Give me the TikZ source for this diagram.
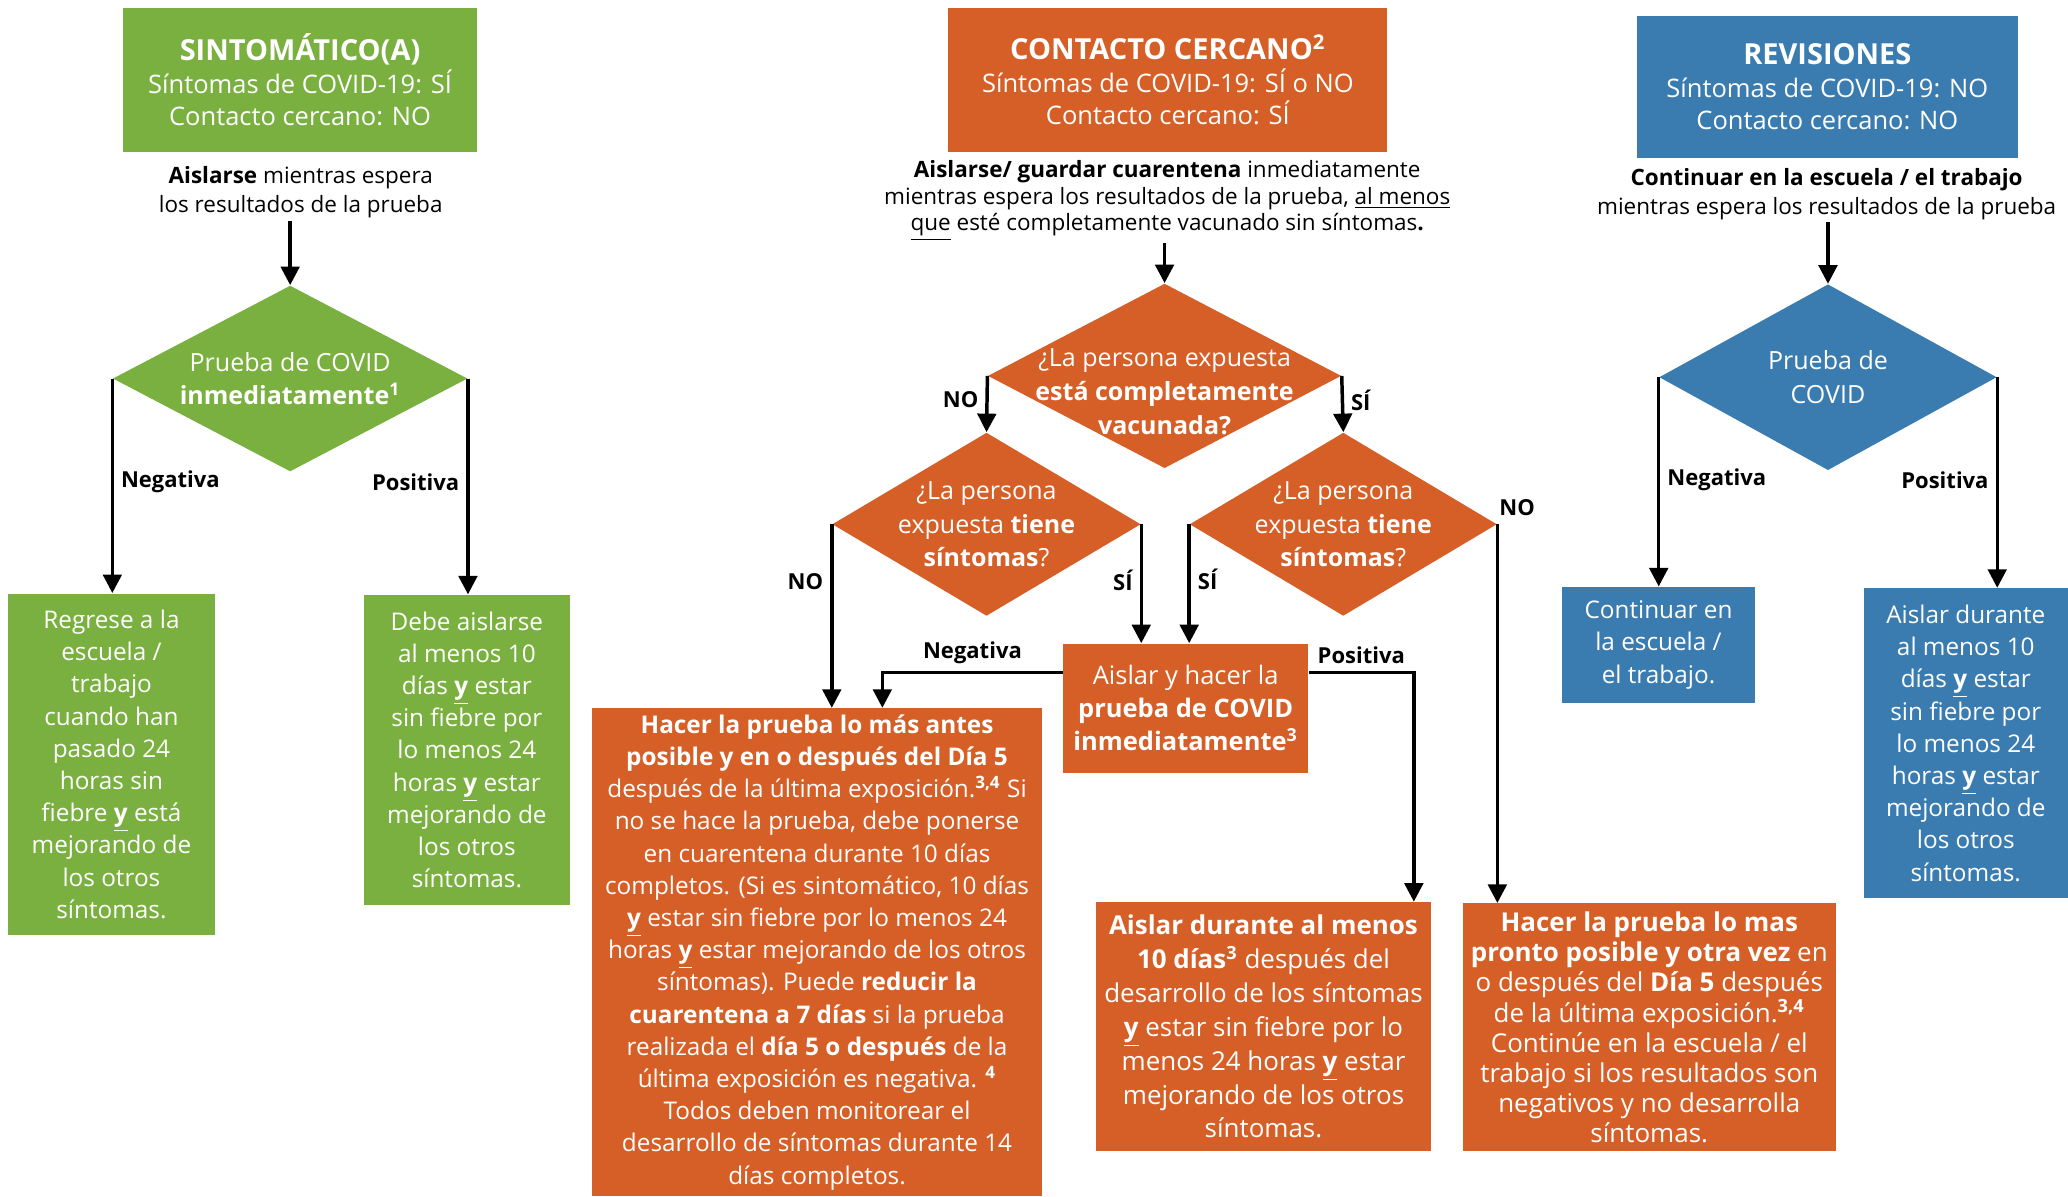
\documentclass[tikz,border=0pt]{standalone}
\usepackage{fontspec}
\setmainfont{Open Sans}
\usetikzlibrary{shapes.geometric,arrows.meta,calc}

\definecolor{symgreen}{HTML}{7AB03F}
\definecolor{conorange}{HTML}{D65F27}
\definecolor{revblue}{HTML}{3A7CB0}

\newcommand{\yu}{\underline{\textbf{y}}}
\newcommand{\fn}[1]{\textsuperscript{\textbf{#1}}}

\begin{document}
\begin{tikzpicture}[
		x=0.02cm, y=-0.02cm,
		box/.style={inner sep=0pt, align=center, text=white, font=\fontsize{10.5}{13.9}\selectfont},
		head/.style={box, font=\fontsize{11}{14}\selectfont},
		dec/.style={diamond, inner sep=-3cm, align=center, text=white, font=\fontsize{10.8}{14.5}\selectfont},
		note/.style={align=center, inner sep=1pt, font=\fontsize{9.7}{12.5}\selectfont},
		conn/.style={-{Triangle[length=8pt,width=8pt]}, line width=1.5pt},
		lbl/.style={font=\bfseries\fontsize{9.5}{11}\selectfont, inner sep=3pt}
		]
		\useasboundingbox (0,0) rectangle (1568,907);
		
		% Sintomatico
		\node[head, fill=symgreen, minimum width=5.38cm, minimum height=2.18cm] (symHead) at (227.5,60.5) {{\fontsize{12.5}{14}\selectfont\textbf{SINTOMÁTICO(A)}}\\Síntomas de COVID-19: SÍ\\Contacto cercano: NO};
		\node[note] (symNote) at (228,146) {\textbf{Aislarse} mientras espera\\los resultados de la prueba};
		\node[dec, fill=symgreen, minimum width=5.38cm, minimum height=2.82cm] (symTest) at (220,287) {Prueba de COVID\\\textbf{inmediatamente}\fn{1}};
		\node[box, fill=symgreen, minimum width=3.14cm, minimum height=5.18cm] (symNeg) at (84.5,579.5) {Regrese a la\\escuela /\\trabajo\\cuando han\\pasado 24\\horas sin\\fiebre \yu{} está\\mejorando de\\los otros\\síntomas.};
		\node[box, fill=symgreen, minimum width=3.12cm, minimum height=4.7cm] (symPos) at (354,568.5) {Debe aislarse\\al menos 10\\días \yu{} estar\\sin fiebre por\\lo menos 24\\horas \yu{} estar\\mejorando de\\los otros\\síntomas.};
		\draw[conn] (symNote.south -| symTest.north) -- (symTest.north);
		\draw[conn] (symTest.west) -- node[lbl, right, pos=0.48] {Negativa} (symTest.west |- symNeg.north);
		\draw[conn] (symTest.east) -- node[lbl, left, pos=0.48] {Positiva} (symTest.east |- symPos.north);
		
		% Contacto cercano
		\node[head, fill=conorange, minimum width=6.66cm, minimum height=2.18cm] (conHead) at (885.5,60.5) {{\fontsize{12.5}{14}\selectfont\textbf{CONTACTO CERCANO}\fn{2}}\\Síntomas de COVID-19: SÍ o NO\\Contacto cercano: SÍ};
		\node[note, font=\fontsize{9.7}{11.4}\selectfont] (conNote) at (885,152) {\textbf{Aislarse/ guardar cuarentena} inmediatamente\\mientras espera los resultados de la prueba, \underline{al menos}\\\underline{que} esté completamente vacunado sin síntomas\textbf{.}};
		\node[dec, fill=conorange, minimum width=5.36cm, minimum height=2.8cm] (conVac) at (883,285) {};
		\node[dec, inner sep=0pt] (conVacTxt) at (883,297) {¿La persona expuesta\\\textbf{está completamente}\\\textbf{vacunada?}};
		\node[dec, fill=conorange, minimum width=4.68cm, minimum height=2.78cm] (conSymNo) at (748,397.5) {¿La persona\\expuesta \textbf{tiene}\\\textbf{síntomas}?};
		\node[dec, fill=conorange, minimum width=4.66cm, minimum height=2.78cm] (conSymYes) at (1018.5,397.5) {¿La persona\\expuesta \textbf{tiene}\\\textbf{síntomas}?};
		\node[box, fill=conorange, minimum width=3.72cm, minimum height=1.96cm, font=\fontsize{11}{14.2}\selectfont] (conIso) at (899,537) {Aislar y hacer la\\\textbf{prueba de COVID}\\\textbf{inmediatamente}\fn{3}};
		\node[box, fill=conorange, minimum width=6.82cm, minimum height=7.4cm] (conQuar) at (619.5,722) {\textbf{Hacer la prueba lo más antes}\\\textbf{posible y en o después del Día 5}\\después de la última exposición.\fn{3,4} Si\\no se hace la prueba, debe ponerse\\en cuarentena durante 10 días\\completos. (Si es sintomático, 10 días\\\yu{} estar sin fiebre por lo menos 24\\horas \yu{} estar mejorando de los otros\\síntomas). Puede \textbf{reducir la}\\\textbf{cuarentena a 7 días} si la prueba\\realizada el \textbf{día 5 o después} de la\\última exposición es negativa. \fn{4}\\Todos deben monitorear el\\desarrollo de síntomas durante 14\\días completos.};
		\node[box, fill=conorange, minimum width=5.08cm, minimum height=3.78cm, font=\fontsize{11.2}{14.6}\selectfont] (conIsoTen) at (958,778.5) {\textbf{Aislar durante al menos}\\\textbf{10 días}\fn{3} después del\\desarrollo de los síntomas\\\yu{} estar sin fiebre por lo\\menos 24 horas \yu{} estar\\mejorando de los otros\\síntomas.};
		\node[box, fill=conorange, minimum width=5.66cm, minimum height=3.76cm, font=\fontsize{11.2}{13}\selectfont] (conRetest) at (1250.5,779) {\textbf{Hacer la prueba lo mas}\\\textbf{pronto posible y otra vez} en\\o después del \textbf{Día 5} después\\de la última exposición.\fn{3,4}\\Continúe en la escuela / el\\trabajo si los resultados son\\negativos y no desarrolla\\síntomas.};
		\draw[conn] (conNote.south -| conVac.north) -- (conVac.north);
		\draw[conn] (conVac.west) -- node[lbl, left, pos=0.43] {NO} (conSymNo.north);
		\draw[conn] (conVac.east) -- node[lbl, right, pos=0.43] {SÍ} (conSymYes.north);
		\draw[conn] (conSymNo.west) -- node[lbl, left, pos=0.31] {NO} (conSymNo.west |- conQuar.north);
		\draw[conn] (conSymNo.east) -- node[lbl, left, pos=0.47] {SÍ} (conSymNo.east |- conIso.north);
		\draw[conn] (conSymYes.west) -- node[lbl, right, pos=0.46] {SÍ} (conSymYes.west |- conIso.north);
		\draw[conn] (conSymYes.east) -- node[lbl, anchor=south west, pos=0, xshift=-0.1cm] {NO} (conSymYes.east |- conRetest.north);
		\draw[conn] ($(conIso.west)+(0,-27)$) -| node[lbl, above, pos=0.25] {Negativa} ($(conQuar.north)+(49.5,0)$);
		\draw[conn] ($(conIso.east)+(0,-27)$) -| node[lbl, above, pos=0.25] {Positiva} ($(conIsoTen.north)+(114,0)$);
		
		% Revisiones
		\node[head, fill=revblue, minimum width=5.78cm, minimum height=2.16cm] (revHead) at (1385.5,66) {{\fontsize{12.5}{14}\selectfont\textbf{REVISIONES}}\\Síntomas de COVID-19: NO\\Contacto cercano: NO};
		\node[note] (revNote) at (1385,147) {\textbf{Continuar en la escuela / el trabajo}\\mientras espera los resultados de la prueba};
		\node[dec, fill=revblue, minimum width=5.12cm, minimum height=2.82cm] (revTest) at (1386,286) {Prueba de\\COVID};
		\node[box, fill=revblue, minimum width=2.94cm, minimum height=1.76cm] (revNeg) at (1257.5,489) {Continuar en\\la escuela /\\el trabajo.};
		\node[box, fill=revblue, minimum width=3.1cm, minimum height=4.7cm] (revPos) at (1490.5,563.5) {Aislar durante\\al menos 10\\días \yu{} estar\\sin fiebre por\\lo menos 24\\horas \yu{} estar\\mejorando de\\los otros\\síntomas.};
		\draw[conn] (revNote.south -| revTest.north) -- (revTest.north);
		\draw[conn] (revTest.west) -- node[lbl, right, pos=0.49] {Negativa} (revTest.west |- revNeg.north);
		\draw[conn] (revTest.east) -- node[lbl, left, pos=0.49] {Positiva} (revTest.east |- revPos.north);
		
	\end{tikzpicture}
\end{document}
